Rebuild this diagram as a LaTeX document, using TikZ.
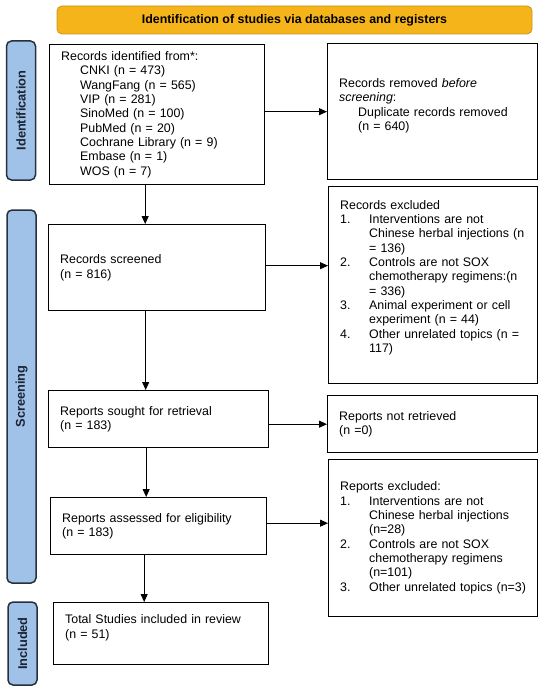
\documentclass[tikz,border=0pt]{standalone}
\usepackage{fontspec}
\setmainfont{Liberation Sans}
\usepackage{xcolor}
\usepackage{tikz}
\usetikzlibrary{positioning,arrows.meta,calc}
\definecolor{bannerfill}{HTML}{F5B41A}
\definecolor{bannerline}{HTML}{C8941A}
\definecolor{phasefill}{HTML}{A1C2E8}
\definecolor{phaseline}{HTML}{26313D}
\definecolor{phasetext}{HTML}{1A2433}
\newcommand{\bodyfont}{\fontsize{12.4pt}{14.3pt}\selectfont}
\newcommand{\ind}{\hspace*{19pt}}
\tikzset{
  box/.style={draw,line width=1.35pt,anchor=north west,align=left,inner xsep=11.5pt,inner ysep=0pt,font=\bodyfont},
  arr/.style={-{Triangle[length=8pt,width=7pt]},line width=0.9pt},
  phase/.style={draw=phaseline,fill=phasefill,rounded corners=5pt,line width=1.5pt,rotate=90,minimum height=29pt,text=phasetext,font=\fontsize{12.8pt}{14pt}\selectfont\bfseries},
  banner/.style={draw=bannerline,fill=bannerfill,rounded corners=5pt,line width=0.8pt,minimum width=475pt,minimum height=28pt,font=\bodyfont\bfseries}
}

\begin{document}
\begin{tikzpicture}[x=1pt,y=-1pt]
\useasboundingbox (0,0) rectangle (542,690);

\node[banner] (head) at (294.5,20) {Identification of studies via databases and registers};

% phase labels on the left
\node[phase,minimum width=139pt] (labid) at (21,110.5) {Identification};
\node[phase,minimum width=373pt] (labscr) at (21.5,396.5) {Screening};
\node[phase,minimum width=83pt] (labinc) at (22.5,643.5) {Included};

% left column
\node[box,text width=192pt,minimum height=140pt] (recid) at (49,44) {%
Records identified from*:\\
\ind CNKI (n = 473)\\
\ind WangFang (n = 565)\\
\ind VIP (n = 281)\\
\ind SinoMed (n = 100)\\
\ind PubMed (n = 20)\\
\ind Cochrane Library (n = 9)\\
\ind Embase (n = 1)\\
\ind WOS (n = 7)};
\node[box,text width=194pt,minimum height=86pt] (recscr) at (48,224) {Records screened\\(n = 816)};
\node[box,text width=197pt,minimum height=57pt] (sought) at (48,390) {Reports sought for retrieval\\(n = 183)};
\node[box,text width=193pt,minimum height=57pt] (assess) at (50,497) {Reports assessed for eligibility\\(n = 183)};
\node[box,text width=192pt,minimum height=62pt] (total) at (53,602) {Total Studies included in review\\(n = 51)\\ \mbox{}};

% right column
\node[box,text width=187pt,minimum height=136pt] (recrem) at (327,43) {%
Records removed \textit{before}\\
\textit{screening}:\\
\ind Duplicate records removed\\
\ind (n = 640)\\ \mbox{}};
\node[box,text width=186pt,minimum height=197pt] (recexc) at (328,186) {%
\begin{tabular}{@{}p{29pt}@{}l@{}}
\multicolumn{2}{@{}l@{}}{Records excluded}\\
1. & Interventions are not\\
   & Chinese herbal injections (n\\
   & = 136)\\
2. & Controls are not SOX\\
   & chemotherapy regimens:(n\\
   & = 336)\\
3. & Animal experiment or cell\\
   & experiment (n = 44)\\
4. & Other unrelated topics (n =\\
   & 117)\\
   &
\end{tabular}};
\node[box,text width=187pt,minimum height=57pt] (notret) at (327,395) {Reports not retrieved\\(n =0)};
\node[box,text width=186pt,minimum height=157pt] (repexc) at (328,459) {%
\begin{tabular}{@{}p{29pt}@{}l@{}}
\multicolumn{2}{@{}l@{}}{Reports excluded:}\\
1. & Interventions are not\\
   & Chinese herbal injections\\
   & (n=28)\\
2. & Controls are not SOX\\
   & chemotherapy regimens\\
   & (n=101)\\
3. & Other unrelated topics (n=3)
\end{tabular}};

% arrows
\draw[arr] ([xshift=-12pt]recid.south) -- ([xshift=-12pt]recid.south |- recscr.north);
\draw[arr] ([xshift=-11.5pt]recscr.south) -- ([xshift=-11.5pt]recscr.south |- sought.north);
\draw[arr] ([xshift=-12.5pt]sought.south) -- ([xshift=-12.5pt]sought.south |- assess.north);
\draw[arr] ([xshift=-14.5pt]assess.south) -- ([xshift=-14.5pt]assess.south |- total.north);

\draw[arr] (recid.east |- recrem.west) -- (recrem.west);
\draw[arr] ([yshift=2pt]recscr.east) -- ([yshift=2pt]recscr.east -| recexc.west);
\draw[arr] (sought.east |- notret.west) -- (notret.west);
\draw[arr] ([yshift=3pt]assess.east) -- ([yshift=3pt]assess.east -| repexc.west);
\end{tikzpicture}
\end{document}
